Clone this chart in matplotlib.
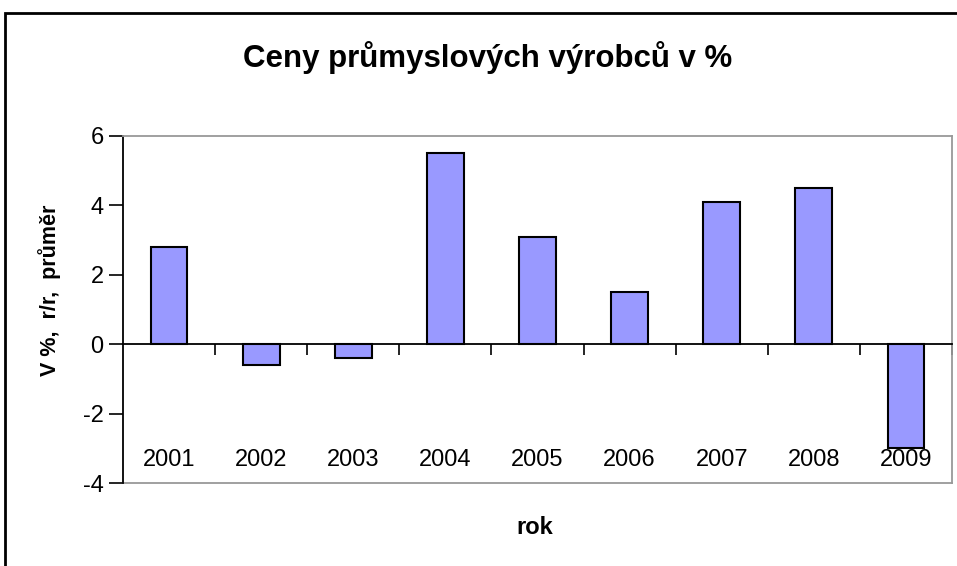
import numpy as np
import matplotlib.pyplot as plt
from matplotlib.patches import Rectangle

plt.rcParams['font.family'] = ['Liberation Sans', 'DejaVu Sans']
plt.rcParams['axes.unicode_minus'] = False

# data
years = ['2001', '2002', '2003', '2004', '2005', '2006', '2007', '2008', '2009']
values = [2.8, -0.6, -0.4, 5.5, 3.1, 1.5, 4.1, 4.5, -3.0]

W, H = 957, 566
fig = plt.figure(figsize=(W / 100, H / 100), dpi=100)

# plot area in pixels: left 123, right 952, top 136, bottom 483
ax = fig.add_axes([123 / W, 1 - 483 / H, (952 - 123) / W, (483 - 136) / H])

x = np.arange(len(years))
ax.bar(x, values, width=0.4, color='#9999FF', edgecolor='black', linewidth=1.5, zorder=2)

ax.set_xlim(-0.5, len(years) - 0.5)
ax.set_ylim(-4, 6)
ax.set_yticks([-4, -2, 0, 2, 4, 6])
ax.tick_params(axis='y', direction='out', length=10, width=1.2, labelsize=17, pad=4)

# x axis sits at zero, ticks at category boundaries
ax.spines['bottom'].set_position(('data', 0))
ax.spines['bottom'].set_linewidth(1.3)
ax.spines['bottom'].set_zorder(3)
ax.set_xticks(np.arange(0.5, len(years), 1.0))
ax.set_xticklabels([])
ax.tick_params(axis='x', direction='out', length=8, width=1.2)
ax.spines['left'].set_linewidth(1.3)
for s in ['top', 'right']:
    ax.spines[s].set_color('#999999')
    ax.spines[s].set_linewidth(1.3)
ax.axhline(-4, color='#999999', linewidth=1.3, clip_on=False)

for i, y in enumerate(years):
    ax.text(i, -3.33, y, ha='center', va='center', fontsize=17, zorder=4)

fig.text(488 / W, 1 - 58 / H, 'Ceny průmyslových výrobců v %', ha='center', va='center',
         fontsize=22.5, fontweight='bold')
fig.text(50 / W, 1 - 290 / H, 'V %,  r/r,  průměr', ha='center', va='center',
         rotation=90, fontsize=15.5, fontweight='bold')
fig.text(535 / W, 1 - 528 / H, 'rok', ha='center', va='center',
         fontsize=17, fontweight='bold')

# outer chart border
fig.patches.append(Rectangle((4.5 / W, -0.05), 1.2, 1 - 12.5 / H + 0.05, transform=fig.transFigure,
                             fill=False, edgecolor='black', linewidth=2))

fig.savefig('out.png', dpi=100)
